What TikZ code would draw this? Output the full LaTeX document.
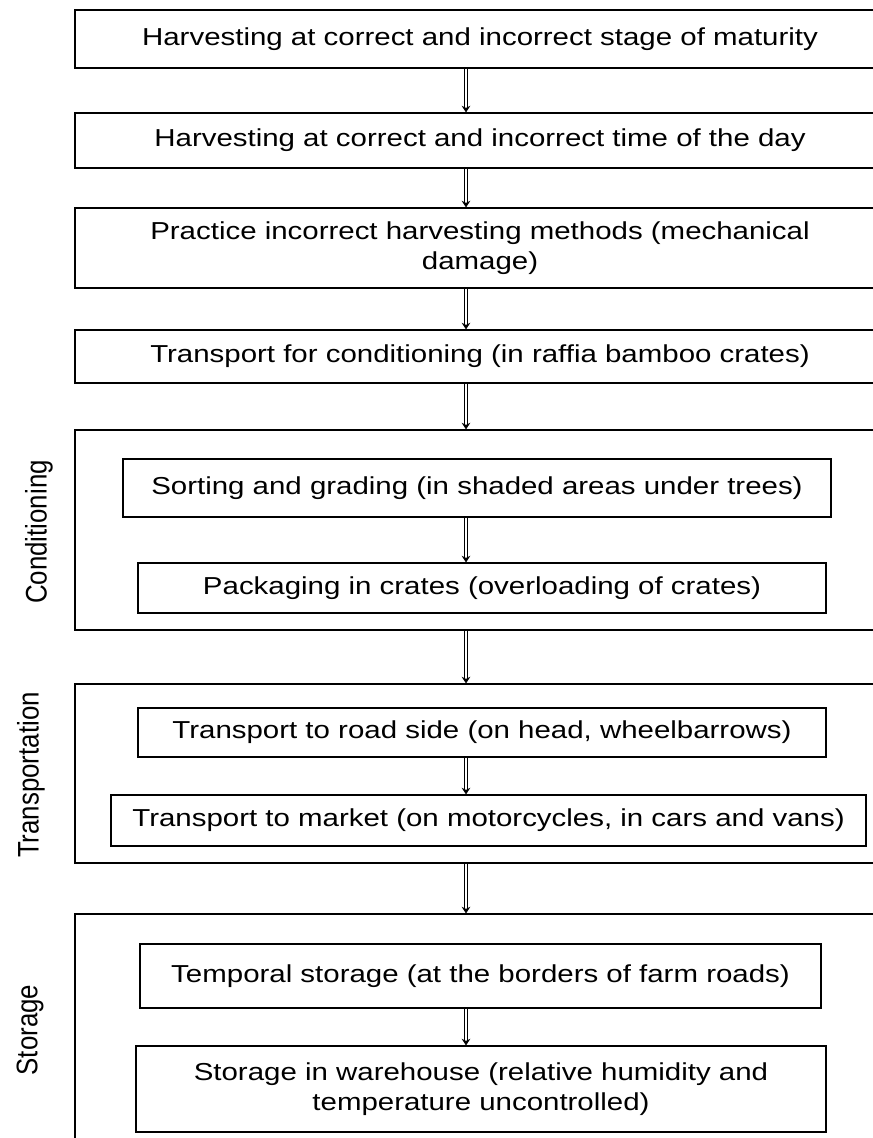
\documentclass[tikz,border=0pt]{standalone}
\usepackage{fontspec}
\setmainfont{Liberation Sans}[FakeStretch=1.2]
\newfontfamily\sidefont{Liberation Sans}
\usetikzlibrary{arrows.meta}

\begin{document}
\begin{tikzpicture}[
        x=0.75pt, y=-0.75pt,
        stepbox/.style={draw, line width=0.9pt, align=center, inner sep=0pt,
            font=\fontsize{18.4}{23}\selectfont},
        outerbox/.style={draw, line width=0.9pt, inner sep=0pt, minimum width=607.5pt},
        sidelabel/.style={rotate=90, font=\sidefont\fontsize{19.4}{22}\selectfont},
        flow/.style={double, double distance=2.2pt, line width=0.55pt,
            -{Stealth[length=5pt, width=6.5pt]}}
    ]
    \useasboundingbox (0,0) rectangle (873,1138);
    \clip (0,0) rectangle (873,1138);
    \coordinate (arrowx) at (466,0);

    % harvesting steps
    \node[stepbox, minimum width=607.5pt, minimum height=43.5pt] (maturity) at (480,39)
        {Harvesting at correct and incorrect stage of maturity};
    \node[stepbox, minimum width=607.5pt, minimum height=41.25pt] (timeofday) at (480,140.5)
        {Harvesting at correct and incorrect time of the day};
    \node[stepbox, minimum width=607.5pt, minimum height=60pt] (methods) at (480,248)
        {Practice incorrect harvesting methods (mechanical\\damage)};
    \node[stepbox, minimum width=607.5pt, minimum height=39.75pt] (raffia) at (480,356.5)
        {Transport for conditioning (in raffia bamboo crates)};

    % conditioning
    \node[outerbox, minimum height=150pt] (conditioning) at (480,530) {};
    \node[sidelabel] (condlabel) at (39,532) {\scalebox{1}[1.15]{Conditioning}};
    \node[stepbox, minimum width=531pt, minimum height=43.5pt] (sorting) at (477,488)
        {Sorting and grading (in shaded areas under trees)};
    \node[stepbox, minimum width=516pt, minimum height=37.5pt] (packaging) at (482,588)
        {Packaging in crates (overloading of crates)};

    % transportation
    \node[outerbox, minimum height=134.25pt] (transportation) at (480,773.5) {};
    \node[sidelabel] (translabel) at (31,775) {\scalebox{1}[1.15]{Transportation}};
    \node[stepbox, minimum width=516pt, minimum height=36.75pt] (roadside) at (482,732.5)
        {Transport to road side (on head, wheelbarrows)};
    \node[stepbox, minimum width=566.25pt, minimum height=38.25pt] (market) at (488.5,820.5)
        {Transport to market (on motorcycles, in cars and vans)};

    % storage
    \node[outerbox, minimum height=184.5pt] (storage) at (480,1037) {};
    \node[sidelabel] (storelabel) at (30,1030) {\scalebox{1}[1.15]{Storage}};
    \node[stepbox, minimum width=510.75pt, minimum height=48pt] (temporal) at (480.5,976)
        {Temporal storage (at the borders of farm roads)};
    \node[stepbox, minimum width=517.5pt, minimum height=64.5pt] (warehouse) at (481,1089)
        {Storage in warehouse (relative humidity and\\temperature uncontrolled)};

    \draw[flow] (maturity.south -| arrowx) -- (timeofday.north -| arrowx);
    \draw[flow] (timeofday.south -| arrowx) -- (methods.north -| arrowx);
    \draw[flow] (methods.south -| arrowx) -- (raffia.north -| arrowx);
    \draw[flow] (raffia.south -| arrowx) -- (conditioning.north -| arrowx);
    \draw[flow] (sorting.south -| arrowx) -- (packaging.north -| arrowx);
    \draw[flow] (conditioning.south -| arrowx) -- (transportation.north -| arrowx);
    \draw[flow] (roadside.south -| arrowx) -- (market.north -| arrowx);
    \draw[flow] (transportation.south -| arrowx) -- (storage.north -| arrowx);
    \draw[flow] (temporal.south -| arrowx) -- (warehouse.north -| arrowx);
\end{tikzpicture}
\end{document}
